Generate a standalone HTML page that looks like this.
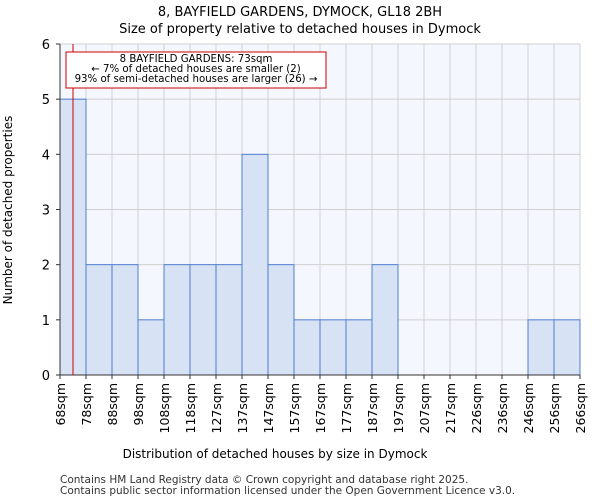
<!DOCTYPE html>
<html><head><meta charset="utf-8"><style>
body{margin:0;background:#fff;font-family:"DejaVu Sans","Liberation Sans",sans-serif}
svg text{font-family:"DejaVu Sans","Liberation Sans",sans-serif}
</style></head><body>
<svg id="c" width="600" height="500" xmlns="http://www.w3.org/2000/svg">
<text x="300" y="16" text-anchor="middle" font-size="13">8, BAYFIELD GARDENS, DYMOCK, GL18 2BH</text>
<text x="300" y="33" text-anchor="middle" font-size="13">Size of property relative to detached houses in Dymock</text>
<rect x="60" y="44" width="520" height="331" fill="#f4f7fe"/>
<g id="grid"></g><g id="bars"></g><g id="axes"></g>
<text x="275" y="458" text-anchor="middle" font-size="12">Distribution of detached houses by size in Dymock</text>
<text transform="translate(12,210) rotate(-90)" text-anchor="middle" font-size="12">Number of detached properties</text>
<text x="60" y="483" font-size="10.5" fill="#333">Contains HM Land Registry data © Crown copyright and database right 2025.</text>
<text x="60" y="494" font-size="10.5" fill="#333">Contains public sector information licensed under the Open Government Licence v3.0.</text>
</svg>
<script>
const categories=["68sqm","78sqm","88sqm","98sqm","108sqm","118sqm","127sqm","137sqm","147sqm","157sqm","167sqm","177sqm","187sqm","197sqm","207sqm","217sqm","226sqm","236sqm","246sqm","256sqm","266sqm"];
const counts=[5,2,2,1,2,2,2,4,2,1,1,1,2,0,0,0,0,0,1,1];
const yTicks=[0,1,2,3,4,5,6];
const markerValue=73;
const binStart=68, binStep=10;
const X0=60,X1=580,Y0=375,Y1=44,yMax=6;
const bw=(X1-X0)/counts.length;
const x=i=>X0+i*bw;
const xv=v=>X0+(v-binStart)/binStep*bw;
const y=v=>Y0-(v/yMax)*(Y0-Y1);
const NS="http://www.w3.org/2000/svg";
function mk(p,t,a){const e=document.createElementNS(NS,t);for(const k in a)e.setAttribute(k,a[k]);p.appendChild(e);return e;}
const grid=document.getElementById('grid'),bars=document.getElementById('bars'),axes=document.getElementById('axes');
for(let i=0;i<=counts.length;i++){const l=mk(grid,'line',{x1:x(i),x2:x(i),y1:Y1,y2:Y0,stroke:'#d0d0d0'});

}
yTicks.forEach(v=>{const l=mk(grid,'line',{x1:X0,x2:X1,y1:y(v),y2:y(v),stroke:'#d0d0d0'});

});
counts.forEach((c,i)=>{if(c<=0)return;const r=mk(bars,'rect',{x:x(i),y:y(c),width:bw,height:Y0-y(c),fill:'#d7e2f4',stroke:'#4f7fd0','stroke-width':1});

});
mk(axes,'line',{x1:X0,x2:X0,y1:Y1,y2:Y0,stroke:'#333'});
mk(axes,'line',{x1:X0,x2:X1,y1:Y0,y2:Y0,stroke:'#333'});
yTicks.forEach(v=>{mk(axes,'line',{x1:X0-4,x2:X0,y1:y(v),y2:y(v),stroke:'#333'});
const t=mk(axes,'text',{x:X0-10,y:y(v)+5,'text-anchor':'end','font-size':13});t.textContent=v;

});
categories.forEach((c,i)=>{mk(axes,'line',{x1:x(i),x2:x(i),y1:Y0,y2:Y0+4,stroke:'#333'});
const t=mk(axes,'text',{transform:`translate(${x(i)+5},${Y0+8}) rotate(-90)`,'text-anchor':'end','font-size':12.5});t.textContent=c;

});
const m=mk(axes,'line',{x1:xv(markerValue),x2:xv(markerValue),y1:Y1,y2:Y0,stroke:'#cc0000','stroke-width':1});


const b=mk(axes,'rect',{x:66,y:52,width:260,height:36,fill:'#fff',stroke:'#cc0000'});


["8 BAYFIELD GARDENS: 73sqm","← 7% of detached houses are smaller (2)","93% of semi-detached houses are larger (26) →"].forEach((s,k)=>{
const t=mk(axes,'text',{x:196,y:62+k*10,'text-anchor':'middle','font-size':10.2});t.textContent=s;

});
</script>
</body></html>
